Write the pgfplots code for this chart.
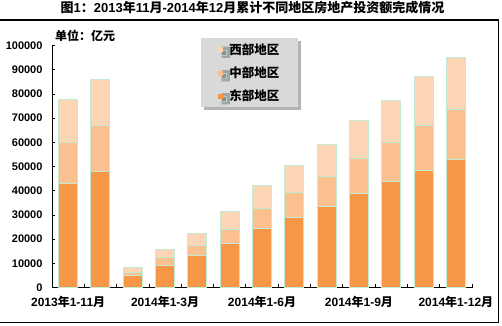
\documentclass[border=0pt]{standalone}
\usepackage{pgfplots}
\pgfplotsset{compat=1.18}
\usepackage{pgfplotstable}
\usepackage{fontspec}
\setmainfont{Liberation Sans}
\newfontfamily\cjk{Noto Sans CJK SC}
\usetikzlibrary{shadows}
\newcommand{\C}[1]{{\cjk\bfseries #1}}
\definecolor{east}{HTML}{F79646}
\definecolor{mid}{HTML}{FAC090}
\definecolor{west}{HTML}{FCD5B5}
\definecolor{edge}{HTML}{C3E9D3}
\definecolor{leggray}{HTML}{D9D9D9}

\pgfplotstableread{
x E M W
0 43100 17000 17600
1 47972 19045 18997
2 5100 1100 1950
3 9100 3100 3400
4 13200 4200 5100
5 18200 5800 7200
6 24400 8300 9600
7 29100 10200 11300
8 33600 12300 13200
9 39000 14300 15900
10 43600 16300 17500
11 48400 18600 20000
12 52941 20662 21433
}\data

\begin{document}
\begin{tikzpicture}[x=1bp,y=1bp]
\useasboundingbox (0,0) rectangle (502,325);
\draw[line width=1bp] (-1,305) -- (498,305) -- (498,3) -- (-1,3);
\node[font=\bfseries\fontsize{13bp}{15bp}\selectfont] at (252.5,317) {\C{图}1\C{：}2013\C{年}11\C{月}-2014\C{年}12\C{月累计不同地区房地产投资额完成情况}};
\node[anchor=west, font=\fontsize{12bp}{14bp}\selectfont, inner sep=0pt] at (55,289) {\C{单位：亿元}};
\begin{axis}[at={(52bp,37.5bp)}, anchor=south west, scale only axis,
  width=420bp, height=242bp,
  ybar stacked, bar width=19bp,
  xmin=-0.5, xmax=12.5, ymin=0, ymax=100000,
  axis lines=left, axis line style={-, line width=0.8bp, black},
  ytick={0,10000,20000,30000,40000,50000,60000,70000,80000,90000,100000},
  yticklabels={0,10000,20000,30000,40000,50000,60000,70000,80000,90000,100000},
  scaled y ticks=false,
  yticklabel style={font=\bfseries\fontsize{11bp}{13bp}\selectfont, xshift=-6bp},
  xtick={0,3,6,9,12},
  xticklabels={2013\C{年}1-11\C{月}, 2014\C{年}1-3\C{月}, 2014\C{年}1-6\C{月}, 2014\C{年}1-9\C{月}, 2014\C{年}1-12\C{月}},
  xticklabel style={font=\bfseries\fontsize{12bp}{14bp}\selectfont, yshift=-5bp},
  minor xtick={-0.5,0.5,...,12.5},
  tick align=inside,
  major tick length=3bp, minor tick length=4bp,
  tick style={black, line width=0.8bp},
  major x tick style={draw=none},
  legend image code/.code={\path[fill=none, draw=none] (0bp,-6bp) rectangle (9bp,6bp); \fill[#1, draw=none] (0bp,-3bp) rectangle (5bp,2bp);},
  reverse legend,
  legend cell align=left,
  legend style={at={(0.355,1.031)}, anchor=north west, fill=leggray, draw=none,
    font=\fontsize{12.5bp}{14bp}\selectfont, row sep=7bp, inner xsep=17bp, inner ysep=3bp,
    drop shadow={shadow xshift=3bp, shadow yshift=-3bp, fill=gray, opacity=0.6}},
]
\addplot[fill=east, draw=edge, line width=1bp] table[x=x,y=E]{\data};
\addlegendentry{\C{东部地区}}
\addplot[fill=mid, draw=edge, line width=1bp] table[x=x,y=M]{\data};
\addlegendentry{\C{中部地区}}
\addplot[fill=west, draw=edge, line width=1bp] table[x=x,y=W]{\data};
\addlegendentry{\C{西部地区}}
\end{axis}
\end{tikzpicture}
\end{document}
